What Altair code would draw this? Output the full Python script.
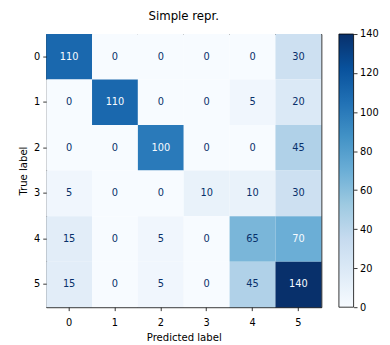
import altair as alt
import pandas as pd

labels = ["0", "1", "2", "3", "4", "5"]
row0 = [110, 0, 0, 0, 0, 30]
row1 = [0, 110, 0, 0, 5, 20]
row2 = [0, 0, 100, 0, 0, 45]
row3 = [5, 0, 0, 10, 10, 30]
row4 = [15, 0, 5, 0, 65, 70]
row5 = [15, 0, 5, 0, 45, 140]
matrix = [row0, row1, row2, row3, row4, row5]

cbar_lo, cbar_hi = 0, 140
cbar_ticks = [0, 20, 40, 60, 80, 100, 120, 140]

blues = ["#f7fbff", "#deebf7", "#c6dbef", "#9ecae1", "#6baed6",
         "#4292c6", "#2171b5", "#08519c", "#08306b"]
dom = [cbar_lo + (cbar_hi - cbar_lo) * i / 8 for i in range(9)]

records = []
for i, t in enumerate(labels):
    for j, p in enumerate(labels):
        records.append({"true": t, "pred": p, "v": matrix[i][j]})
df = pd.DataFrame(records)
cbar_df = pd.DataFrame({"lo": [cbar_lo], "hi": [cbar_hi]})

font = "DejaVu Sans"

base = alt.Chart(df).encode(
    x=alt.X("pred:O", sort=labels, title="Predicted label",
            axis=alt.Axis(labelAngle=0, tickSize=3.5, tickColor="black", tickWidth=0.8,
                          domain=False, labelPadding=7, titlePadding=6,
                          labelFontSize=10, titleFontSize=10.3, labelFont=font, titleFont=font,
                          labelColor="black", titleColor="black", titleFontWeight="normal")),
    y=alt.Y("true:O", sort=labels, title="True label",
            axis=alt.Axis(orient="left", tickSize=3.5, tickColor="black", tickWidth=0.8,
                          domain=False, labelPadding=3, titlePadding=5,
                          labelFontSize=10, titleFontSize=10.3, labelFont=font, titleFont=font,
                          labelColor="black", titleColor="black", titleFontWeight="normal")),
)

rects = base.mark_rect().encode(
    color=alt.Color("v:Q", scale=alt.Scale(domain=dom, range=blues), legend=None)
)

texts = base.mark_text(fontSize=10, font=font).encode(
    text="v:Q",
    color=alt.condition("datum.v >= 70", alt.value("#f7fbff"), alt.value("#08306b")),
)

heat = alt.layer(rects, texts)

grad = alt.Gradient(
    gradient="linear",
    stops=[alt.GradientStop(color=c, offset=i / 8) for i, c in enumerate(blues)],
    x1=0, x2=0, y1=1, y2=0,
)

cbar = alt.Chart(cbar_df).mark_rect(fill=grad, stroke="black", strokeWidth=0.8).encode(
    x=alt.value(299), x2=alt.value(314),
    y=alt.Y("lo:Q", title=None,
            scale=alt.Scale(domain=[cbar_lo, cbar_hi], nice=False, zero=False),
            axis=alt.Axis(orient="right", offset=33, values=cbar_ticks, grid=False,
                          domain=False, tickSize=3.5, tickColor="black", tickWidth=0.8,
                          labelPadding=2.5, labelFontSize=10, labelFont=font,
                          labelColor="black")),
    y2="hi:Q",
)

chart = alt.layer(heat, cbar).resolve_scale(y="independent").properties(
    width=281, height=279,
    title=alt.TitleParams("Simple repr.", fontSize=12, font=font, fontWeight="normal",
                          color="black", offset=6, anchor="middle"),
    autosize=alt.AutoSizeParams(type="none"),
    padding={"left": 39, "top": 23, "right": 62, "bottom": 34},
).configure_view(stroke="black", strokeWidth=1).configure_scale(bandPaddingInner=0)

chart.save("out.html", embed_options={"renderer": "svg", "actions": False})
